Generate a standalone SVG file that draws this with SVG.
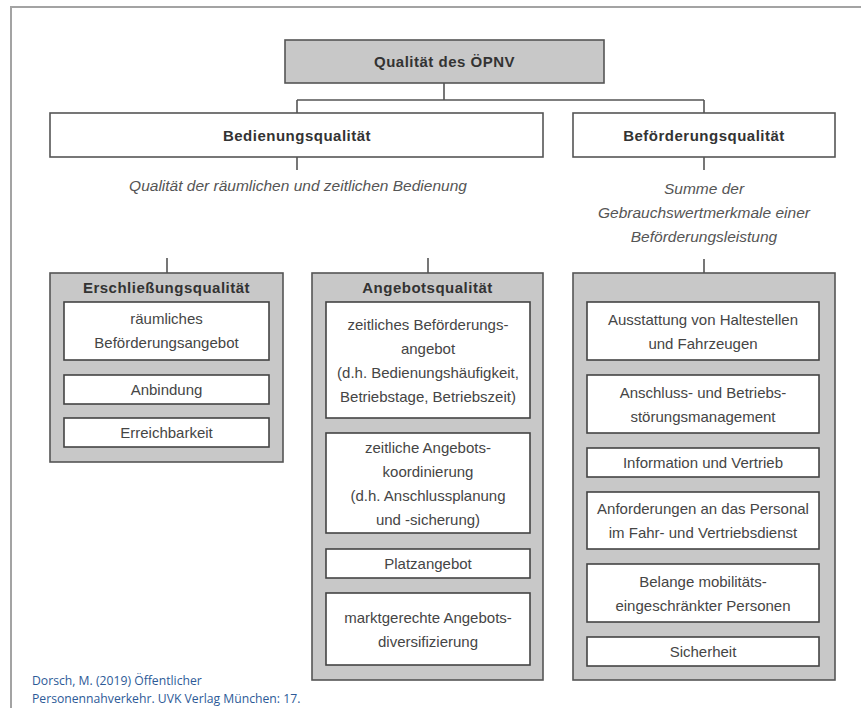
<svg xmlns="http://www.w3.org/2000/svg" width="861" height="708" viewBox="0 0 861 708">
<style>
.frame{fill:none;stroke:#a3a3a3;stroke-width:2}
.gray{fill:#c8c8c8;stroke:#555;stroke-width:1.6}
.white{fill:#fff;stroke:#555;stroke-width:1.6}
.inner{fill:#fff;stroke:#444;stroke-width:1.6}
.conn{fill:none;stroke:#555;stroke-width:1.6}
text{font-family:"Liberation Sans",Arial,sans-serif;text-anchor:middle;fill:#454545;font-size:15px}
.b{font-weight:bold;fill:#333;font-size:15px;letter-spacing:0.5px}
.i{font-style:italic;font-size:15.5px;fill:#555}
.cite{font-family:"Open Sans","DejaVu Sans",sans-serif;text-anchor:start;fill:#2d5a97;font-size:12.2px}
</style>
<rect x="0" y="0" width="861" height="708" fill="#fff"/>
<path class="frame" d="M11,708 V7 H861"/>
<g id="connectors">
<path class="conn" d="M444,83 V100 M297,100 H704 M297,100 V113 M704,100 V113 M297,157 V170 M704,157 V170 M167,258 V273 M428,258 V273 M704,259 V273"/>
</g>
<g id="root">
<rect class="gray" x="285" y="40" width="319" height="43"/>
<text class="b" x="444.5" y="66.5">Qualität des ÖPNV</text>
</g>
<g id="bedienung">
<rect class="white" x="50" y="113" width="493" height="44"/>
<text class="b" x="297" y="140.5">Bedienungsqualität</text>
<text class="i" x="298" y="190.5">Qualität der räumlichen und zeitlichen Bedienung</text>
</g>
<g id="befoerderung">
<rect class="white" x="573" y="113" width="262" height="44"/>
<text class="b" x="704" y="140.5">Beförderungsqualität</text>
<text class="i" x="704" y="193.5">Summe der</text>
<text class="i" x="704" y="217.5">Gebrauchswertmerkmale einer</text>
<text class="i" x="704" y="241.5">Beförderungsleistung</text>
</g>
<g id="erschliessung">
<rect class="gray" x="50" y="273" width="233" height="189"/>
<text class="b" x="166.5" y="293">Erschließungsqualität</text>
<rect class="inner" x="64" y="302" width="205" height="58"/>
<text x="166.5" y="323.5">räumliches</text>
<text x="166.5" y="347.5">Beförderungsangebot</text>
<rect class="inner" x="64" y="375" width="205" height="29"/>
<text x="166.5" y="395">Anbindung</text>
<rect class="inner" x="64" y="418" width="205" height="29"/>
<text x="166.5" y="438">Erreichbarkeit</text>
</g>
<g id="angebot">
<rect class="gray" x="312" y="273" width="231" height="407"/>
<text class="b" x="427.5" y="293">Angebotsqualität</text>
<rect class="inner" x="326" y="302" width="204" height="116"/>
<text x="428" y="329.5">zeitliches Beförderungs-</text>
<text x="428" y="353.5">angebot</text>
<text x="428" y="377.5">(d.h. Bedienungshäufigkeit,</text>
<text x="428" y="401.5">Betriebstage, Betriebszeit)</text>
<rect class="inner" x="326" y="433" width="204" height="100"/>
<text x="428" y="452.5">zeitliche Angebots-</text>
<text x="428" y="476.5">koordinierung</text>
<text x="428" y="500.5">(d.h. Anschlussplanung</text>
<text x="428" y="524.5">und -sicherung)</text>
<rect class="inner" x="326" y="549" width="204" height="29"/>
<text x="428" y="569">Platzangebot</text>
<rect class="inner" x="326" y="593" width="204" height="72"/>
<text x="428" y="622.5">marktgerechte Angebots-</text>
<text x="428" y="646.5">diversifizierung</text>
</g>
<g id="befoerderung-merkmale">
<rect class="gray" x="573" y="273" width="262" height="407"/>
<rect class="inner" x="587" y="302" width="232" height="58"/>
<text x="703" y="324.5">Ausstattung von Haltestellen</text>
<text x="703" y="348.5">und Fahrzeugen</text>
<rect class="inner" x="587" y="375" width="232" height="58"/>
<text x="703" y="397.5">Anschluss- und Betriebs-</text>
<text x="703" y="421.5">störungsmanagement</text>
<rect class="inner" x="587" y="448" width="232" height="29"/>
<text x="703" y="467.5">Information und Vertrieb</text>
<rect class="inner" x="587" y="492" width="232" height="57"/>
<text x="703" y="514">Anforderungen an das Personal</text>
<text x="703" y="538">im Fahr- und Vertriebsdienst</text>
<rect class="inner" x="587" y="564" width="232" height="58"/>
<text x="703" y="586.5">Belange mobilitäts-</text>
<text x="703" y="610.5">eingeschränkter Personen</text>
<rect class="inner" x="587" y="637" width="232" height="29"/>
<text x="703" y="657">Sicherheit</text>
</g>
<g id="citation">
<text class="cite" x="32" y="685">Dorsch, M. (2019) Öffentlicher</text>
<text class="cite" x="32" y="703">Personennahverkehr. UVK Verlag München: 17.</text>
</g>
</svg>
